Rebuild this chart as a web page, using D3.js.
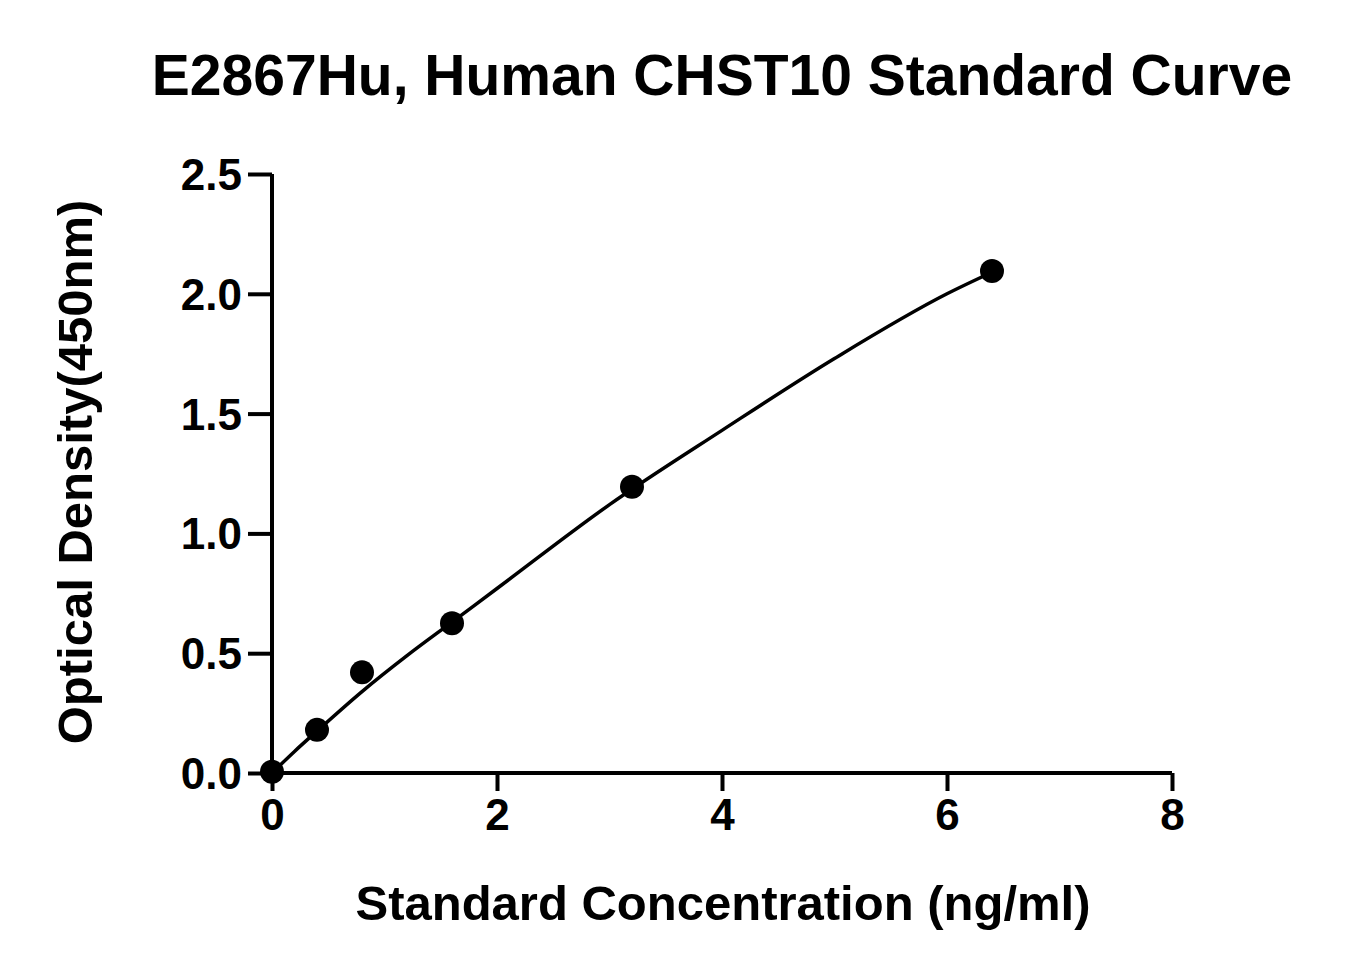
<!DOCTYPE html><html><head><meta charset="utf-8"><script src="https://cdn.jsdelivr.net/npm/d3@7"></script>
<style>body{margin:0;background:#fff}text{font-family:"Liberation Sans",Arial,sans-serif;font-weight:bold;fill:#000}</style></head><body>
<svg id="c" width="1347" height="975"></svg>
<script>
const conc=[0,0.4,0.8,1.6,3.2,6.4];
const od=[0.005,0.18,0.42,0.625,1.195,2.095];
const fitX=[0,0.2,0.4,0.8,1.2,1.6,2,3,4,5,6,6.4];
const fitY=[0,0.09,0.175,0.34,0.49,0.63,0.77,1.12,1.43,1.73,2.0,2.09];
const xTicks=[0,2,4,6,8], yTicks=[0,0.5,1,1.5,2,2.5];
const svg=d3.select("#c");
const x=d3.scaleLinear().domain([0,8]).range([272,1172]);
const y=d3.scaleLinear().domain([0,2.5]).range([773,174]);
const gx=svg.append("g").attr("transform","translate(0,773)").call(d3.axisBottom(x).tickValues(xTicks).tickFormat(d3.format("d")).tickSize(18).tickPadding(8));
const gy=svg.append("g").attr("transform","translate(272,0)").call(d3.axisLeft(y).tickValues(yTicks).tickFormat(d3.format(".1f")).tickSize(24).tickPadding(6));
[gx,gy].forEach(g=>{g.selectAll("path,line").attr("stroke","#000").attr("stroke-width",4);g.select(".domain").attr("d",g===gx?"M272,0H1172":"M0,773V174");g.selectAll("text").attr("font-size",null).style("font-size","44px").style("font-family","Liberation Sans").style("font-weight","bold");});
gy.selectAll("text").attr("dy","0.35em");
svg.append("path").datum(fitX.map((v,i)=>[v,fitY[i]])).attr("d",d3.line().x(d=>x(d[0])).y(d=>y(d[1])).curve(d3.curveMonotoneX)).attr("fill","none").attr("stroke","#000").attr("stroke-width",3.5);
svg.selectAll("circle").data(conc).join("circle").attr("cx",d=>x(d)).attr("cy",(d,i)=>y(od[i])).attr("r",12).attr("fill","#000");
svg.append("text").attr("x",722).attr("y",95).attr("text-anchor","middle").style("font-size","57px").text("E2867Hu, Human CHST10 Standard Curve");
svg.append("text").attr("x",723).attr("y",920).attr("text-anchor","middle").style("font-size","49px").text("Standard Concentration (ng/ml)");
svg.append("text").attr("transform","translate(92,472) rotate(-90)").attr("text-anchor","middle").style("font-size","49px").text("Optical Density(450nm)");
</script></body></html>
